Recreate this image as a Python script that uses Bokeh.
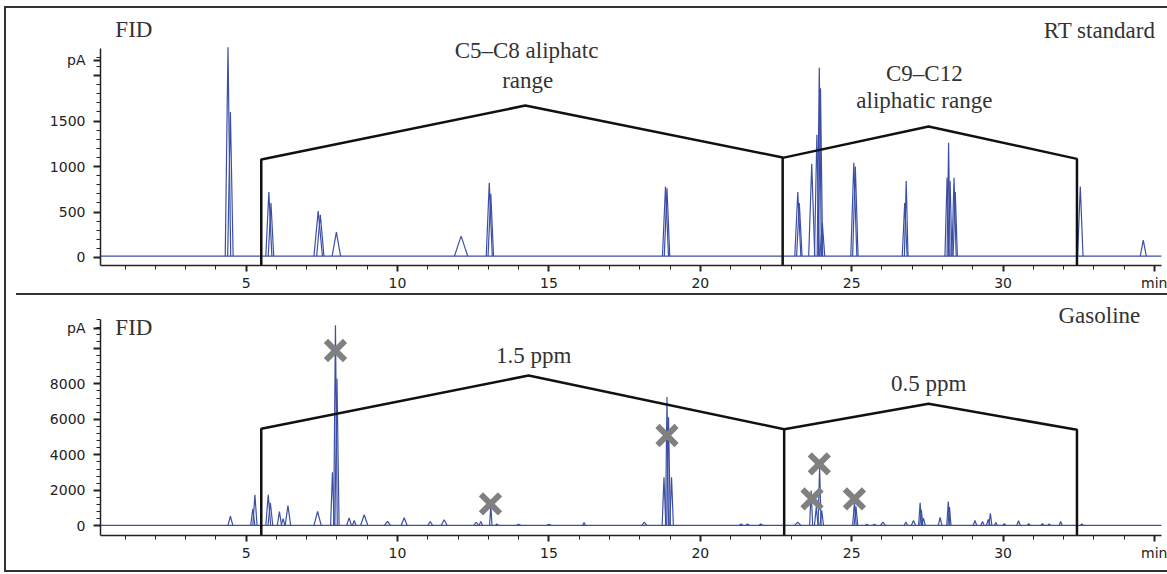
from bokeh.plotting import figure
from bokeh.models import Range1d, SingleIntervalTicker, FixedTicker, Label, Spacer
from bokeh.layouts import column, row
from bokeh.embed import file_html
from bokeh.resources import INLINE

# ---------------- data ----------------
# RT standard chromatogram: peak retention time (min), height (pA), half width (min)
std_rt = [4.40, 4.48, 5.75, 5.82, 7.38, 7.45, 7.98, 12.10, 13.03, 13.08, 18.85, 18.90,
          23.22, 23.27, 23.68, 23.85, 23.93, 23.97, 24.03, 25.07, 25.12, 26.75, 26.80,
          28.15, 28.20, 28.25, 28.38, 28.42, 32.55, 34.63]
std_h = [2310, 1600, 720, 600, 510, 470, 280, 235, 820, 700, 780, 760,
         720, 600, 1030, 1350, 2085, 1860, 380, 1040, 1000, 600, 840,
         880, 1260, 840, 876, 720, 780, 190]
std_w = [0.09, 0.09, 0.10, 0.09, 0.14, 0.12, 0.14, 0.22, 0.10, 0.09, 0.10, 0.09,
         0.10, 0.09, 0.10, 0.08, 0.07, 0.07, 0.08, 0.10, 0.09, 0.08, 0.06,
         0.07, 0.05, 0.06, 0.07, 0.07, 0.09, 0.10]
std_base = 15

# Gasoline chromatogram
gas_rt = [4.48, 5.22, 5.29, 5.73, 5.80, 6.10, 6.22, 6.38, 7.36, 7.85, 7.95, 8.00,
          8.40, 8.57, 8.90, 9.67, 10.22, 11.08, 11.54, 12.60, 12.75, 13.08, 13.28,
          14.00, 15.00, 16.16, 18.15, 18.80, 18.90, 18.95, 19.05, 21.35, 21.56, 22.00,
          23.22, 23.66, 23.83, 23.94, 24.01, 25.09, 25.14, 25.50, 25.75, 26.03, 26.79,
          27.04, 27.26, 27.30, 27.37, 27.92, 28.19, 28.23, 29.07, 29.32, 29.51, 29.58,
          29.76, 30.04, 30.51, 30.85, 31.30, 31.52, 31.90, 32.60]
gas_h = [540, 950, 1745, 1745, 1300, 800, 400, 1145, 805, 3020, 11300, 8280,
         450, 300, 620, 250, 450, 240, 340, 200, 240, 1140, 100,
         80, 90, 180, 210, 2740, 7250, 6120, 2740, 100, 100, 110,
         210, 1990, 1050, 3300, 860, 1300, 1100, 80, 80, 210, 210,
         300, 1300, 900, 430, 470, 1370, 1050, 300, 240, 360, 700,
         190, 120, 280, 120, 130, 100, 240, 100]
gas_w = [0.08, 0.07, 0.07, 0.08, 0.08, 0.07, 0.06, 0.09, 0.12, 0.06, 0.06, 0.07,
         0.08, 0.06, 0.12, 0.10, 0.10, 0.08, 0.10, 0.08, 0.06, 0.04, 0.05,
         0.08, 0.08, 0.05, 0.08, 0.06, 0.05, 0.06, 0.06, 0.06, 0.06, 0.07,
         0.10, 0.05, 0.06, 0.05, 0.06, 0.06, 0.06, 0.06, 0.06, 0.08, 0.06,
         0.07, 0.05, 0.05, 0.06, 0.06, 0.05, 0.05, 0.06, 0.06, 0.06, 0.05,
         0.05, 0.05, 0.06, 0.05, 0.05, 0.05, 0.05, 0.05]
gas_base = 20

# marked peaks (x markers) in gasoline
mark_rt = [7.95, 13.07, 18.90, 23.69, 23.93, 25.09]
mark_pa = [9876, 1239, 5087, 1521, 3493, 1521]

# range brackets
std_br1_x = [5.5, 5.5, 14.22, 22.72, 22.72]
std_br1_y = [-88, 1077, 1670, 1099, -88]
std_br2_x = [22.72, 27.54, 32.44, 32.44]
std_br2_y = [1095, 1440, 1084, -88]
gas_br1_x = [5.5, 5.5, 14.33, 22.77, 22.77]
gas_br1_y = [-546, 5465, 8468, 5440, -546]
gas_br2_x = [22.77, 27.54, 32.44, 32.44]
gas_br2_y = [5440, 6873, 5408, -546]

# axis ticks (unit "pA" sits on the y axis, unit "min" at the end of the x axis)
x_labels = {35: "min"}
std_major = [0, 500, 1000, 1500, 2000, 2168]
std_minor = list(range(0, 2300, 100))
gas_major = [0, 2000, 4000, 6000, 8000, 10000, 11127]
gas_minor = list(range(0, 11601, 400))

X_AXIS = (0.19, 35.23)
X_VIEW = (0.19, 35.43)
TRACE = "#3c4fa5"
SERIF = "Liberation Serif"
SANS = "DejaVu Sans"


def make_fig(height, yaxis_bounds, yview_top, bbottom, major, minor, overrides):
    p = figure(width=1161, height=height, x_range=Range1d(*X_VIEW),
               y_range=Range1d(yaxis_bounds[0], yview_top), output_backend="svg",
               toolbar_location=None, min_border_left=94, min_border_right=0,
               min_border_top=0, min_border_bottom=bbottom)
    p.xgrid.visible = False
    p.ygrid.visible = False
    p.outline_line_color = None
    p.xaxis.ticker = SingleIntervalTicker(interval=5, num_minor_ticks=5)
    p.xaxis.bounds = X_AXIS
    p.xaxis.major_label_overrides = x_labels
    p.yaxis.ticker = FixedTicker(ticks=major, minor_ticks=minor)
    p.yaxis.bounds = yaxis_bounds
    p.yaxis.major_label_overrides = overrides
    for ax in (p.xaxis[0], p.yaxis[0]):
        ax.axis_line_color = "#222"
        ax.axis_line_width = 1.5
        ax.major_tick_line_color = "#222"
        ax.minor_tick_line_color = "#222"
        ax.major_tick_line_width = 2
        ax.minor_tick_line_width = 1
        ax.major_tick_in = 0
        ax.minor_tick_in = 0
        ax.major_label_text_font = SANS
        ax.major_label_text_font_size = "14px"
        ax.major_label_text_color = "#222"
    p.xaxis.major_tick_out = 6
    p.xaxis.minor_tick_out = 4
    p.xaxis.major_label_standoff = 3
    p.yaxis.major_tick_out = 7
    p.yaxis.minor_tick_out = 4
    p.yaxis.major_label_standoff = 8
    return p


def add_trace(p, rts, hs, ws, base):
    p.line(list(X_AXIS), [base, base], line_color=TRACE, line_width=1.2)
    xs = [[r - w, r, r + w] for r, w in zip(rts, ws)]
    ys = [[base, h, base] for h in hs]
    p.multi_line(xs, ys, line_color=TRACE, line_width=1.2)


def lab(p, x, y, text, size="23px", font=SERIF, align="center", color="#333"):
    p.add_layout(Label(x=x, y=y, text=text, text_font=font, text_font_size=size,
                       text_align=align, text_baseline="middle", text_color=color))


# ---------------- top panel: RT standard ----------------
top = make_fig(285, (-88, 2299), 2737, 27, std_major, std_minor, {2000: "", 2168: "pA"})
add_trace(top, std_rt, std_h, std_w, std_base)
top.line(std_br1_x, std_br1_y, line_color="#111", line_width=2.5)
top.line(std_br2_x, std_br2_y, line_color="#111", line_width=2.5)
lab(top, 0.68, 2507, "FID", align="left")
lab(top, 35.03, 2491, "RT standard", align="right")
lab(top, 14.26, 2277, "C5\u2013C8 aliphatc")
lab(top, 14.30, 1949, "range")
lab(top, 27.40, 2026, "C9\u2013C12")
lab(top, 27.40, 1730, "aliphatic range")

# ---------------- bottom panel: Gasoline ----------------
bot = make_fig(275, (-546, 11606), 12975, 35, gas_major, gas_minor, {10000: "", 11127: "pA"})
add_trace(bot, gas_rt, gas_h, gas_w, gas_base)
bot.line(gas_br1_x, gas_br1_y, line_color="#111", line_width=2.5)
bot.line(gas_br2_x, gas_br2_y, line_color="#111", line_width=2.5)
bot.scatter(mark_rt, mark_pa, marker="x", size=27, line_color="#808080", line_width=6)
lab(bot, 0.68, 11172, "FID", align="left")
lab(bot, 34.53, 11848, "Gasoline", align="right")
lab(bot, 14.50, 9594, "1.5 ppm")
lab(bot, 27.54, 8034, "0.5 ppm")

# ---------------- frame lines around the panels ----------------
LINE = {"background-color": "#333"}
left_col = column(Spacer(width=4, height=6), Spacer(width=4, height=566))
vline = column(Spacer(width=2, height=6), Spacer(width=2, height=566, styles=LINE))
main = column(
    Spacer(width=1161, height=6),
    Spacer(width=1161, height=2, styles=LINE),
    top,
    row(Spacer(width=10, height=2), Spacer(width=1151, height=2, styles=LINE)),
    bot,
    Spacer(width=1161, height=2, styles=LINE),
)
layout = row(left_col, vline, main)

open("out.html", "w").write(file_html(layout, INLINE))
